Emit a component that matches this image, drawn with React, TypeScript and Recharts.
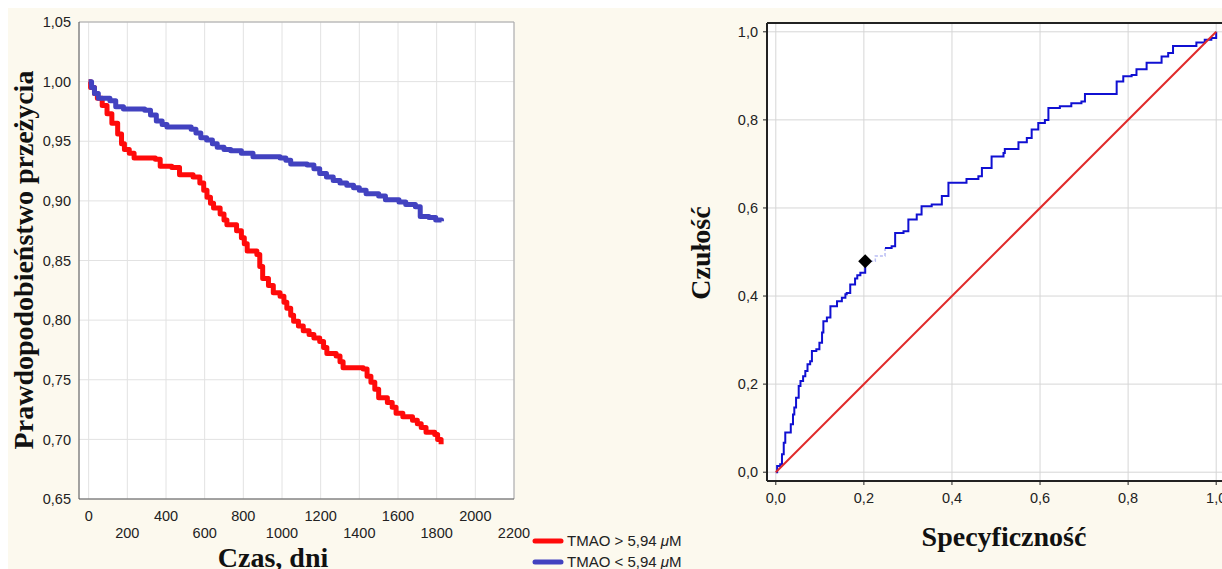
import React from "react";
import {
  LineChart,
  ComposedChart,
  Line,
  Scatter,
  XAxis,
  YAxis,
  CartesianGrid,
  ReferenceLine,
} from "recharts";

const SANS = "'Liberation Sans', Arial, sans-serif";
const SERIF = "'Liberation Serif', 'Times New Roman', serif";

// Kaplan-Meier: survival by TMAO group
const dayTicks = [0, 200, 400, 600, 800, 1000, 1200, 1400, 1600, 1800, 2000, 2200];
const survTicks = [0.65, 0.7, 0.75, 0.8, 0.85, 0.9, 0.95, 1.0, 1.05];

const highDays = [
  0, 10, 30, 45, 70, 95, 120, 150, 170, 185, 210, 235, 345, 370, 430, 470, 540, 575, 595, 612,
  630, 646, 680, 700, 715, 765, 790, 805, 820, 870, 885, 900, 930, 955, 990, 1010, 1025, 1045,
  1060, 1085, 1110, 1140, 1165, 1195, 1215, 1232, 1280, 1300, 1316, 1420, 1440, 1460, 1480, 1500,
  1545, 1570, 1590, 1625, 1675, 1700, 1720, 1745, 1790, 1805, 1823,
];
const highSurv = [
  1.0, 0.995, 0.99, 0.986, 0.98, 0.973, 0.965, 0.956, 0.948, 0.943, 0.94, 0.936, 0.935, 0.929,
  0.928, 0.922, 0.92, 0.915, 0.909, 0.903, 0.898, 0.894, 0.889, 0.884, 0.88, 0.875, 0.869, 0.864,
  0.858, 0.855, 0.845, 0.835, 0.829, 0.823, 0.82, 0.815, 0.81, 0.804, 0.799, 0.795, 0.791, 0.788,
  0.785, 0.782, 0.777, 0.772, 0.77, 0.765, 0.76, 0.759, 0.753, 0.748, 0.742, 0.735, 0.731, 0.727,
  0.722, 0.719, 0.716, 0.713, 0.71, 0.706, 0.704, 0.7, 0.696,
];

const lowDays = [
  0, 15, 30, 50, 110, 140, 180, 290, 320, 350, 380, 405, 530, 555, 580, 610, 640, 665, 700, 735,
  790, 850, 990, 1020, 1045, 1130, 1165, 1195, 1230, 1265, 1300, 1335, 1370, 1400, 1435, 1500,
  1535, 1605, 1640, 1690, 1715, 1760, 1795, 1825,
];
const lowSurv = [
  1.0, 0.995, 0.99, 0.986, 0.984, 0.979, 0.977, 0.976, 0.972, 0.967, 0.964, 0.962, 0.96, 0.957,
  0.953, 0.951, 0.948, 0.945, 0.943, 0.942, 0.94, 0.937, 0.936, 0.934, 0.931, 0.93, 0.927, 0.923,
  0.92, 0.917, 0.915, 0.913, 0.911, 0.909, 0.906, 0.904, 0.901, 0.899, 0.897, 0.895, 0.887, 0.886,
  0.884, 0.883,
];

// ROC curve
const rocTicks = [0, 0.2, 0.4, 0.6, 0.8, 1.0];

const rocFprA = [
  0, 0.003, 0.01, 0.014, 0.018, 0.0215, 0.029, 0.034, 0.039, 0.042, 0.046, 0.052, 0.056, 0.062,
  0.067, 0.072, 0.078, 0.082, 0.092, 0.099, 0.105, 0.108, 0.116, 0.124, 0.139, 0.15, 0.158, 0.161,
  0.169, 0.18, 0.185, 0.192, 0.203,
];
const rocTprA = [
  0, 0.014, 0.018, 0.041, 0.067, 0.09, 0.09, 0.109, 0.131, 0.147, 0.169, 0.196, 0.207, 0.218, 0.23,
  0.245, 0.252, 0.275, 0.279, 0.294, 0.317, 0.343, 0.351, 0.377, 0.388, 0.396, 0.404, 0.407, 0.426,
  0.44, 0.447, 0.453, 0.479,
];
const rocFprGap = [0.203, 0.226, 0.248];
const rocTprGap = [0.479, 0.491, 0.509];
const rocFprB = [
  0.248, 0.263, 0.271, 0.29, 0.301, 0.32, 0.331, 0.354, 0.377, 0.392, 0.418, 0.433, 0.46, 0.468,
  0.49, 0.517, 0.52, 0.543, 0.551, 0.57, 0.581, 0.596, 0.611, 0.619, 0.645, 0.671, 0.694, 0.702,
  0.766, 0.774, 0.789, 0.808, 0.819, 0.842, 0.868, 0.876, 0.891, 0.902, 0.948, 0.955, 0.974, 0.989,
  1.0,
];
const rocTprB = [
  0.509, 0.513, 0.543, 0.547, 0.574, 0.585, 0.604, 0.608, 0.627, 0.657, 0.657, 0.666, 0.672, 0.691,
  0.717, 0.725, 0.734, 0.734, 0.749, 0.759, 0.778, 0.793, 0.8, 0.827, 0.831, 0.838, 0.842, 0.859,
  0.859, 0.887, 0.899, 0.902, 0.915, 0.93, 0.93, 0.944, 0.952, 0.968, 0.968, 0.976, 0.982, 0.986,
  1.0,
];
const refFpr = [0, 1];
const refTpr = [0, 1];
const cutFpr = [0.203];
const cutTpr = [0.479];

const highData = highDays.map((t, i) => ({ t, s: highSurv[i] }));
const lowData = lowDays.map((t, i) => ({ t, s: lowSurv[i] }));
const zip = (xs: number[], ys: number[]) => xs.map((x, i) => ({ x, y: ys[i] }));
const rocA = zip(rocFprA, rocTprA);
const rocGap = zip(rocFprGap, rocTprGap);
const rocB = zip(rocFprB, rocTprB);
const refData = zip(refFpr, refTpr);
const cutData = zip(cutFpr, cutTpr);

const comma = (d: number) => (v: number) => v.toFixed(d).replace(".", ",");

function DayTick(props: any) {
  const { x, y, payload } = props;
  const lower = Math.round(payload.value / 200) % 2 === 1;
  return (
    <text x={x} y={y + (lower ? 39 : 22)} textAnchor="middle" fontSize={14.5} fill="#222" fontFamily={SANS}>
      {payload.value}
    </text>
  );
}

function Diamond(props: any) {
  const { cx, cy } = props;
  const r = 7;
  return <polygon points={`${cx},${cy - r} ${cx + r},${cy} ${cx},${cy + r} ${cx - r},${cy}`} fill="#000" />;
}

const tickStyle = { fontSize: 14.5, fill: "#222", fontFamily: SANS };

export default function App() {
  return (
    <div
      style={{
        position: "fixed",
        left: 8,
        top: 8,
        width: 1214,
        height: 561,
        background: "#fcf9ee",
        overflow: "hidden",
      }}
    >
      <div style={{ position: "absolute", left: 0, top: 0 }}>
        <LineChart width={545} height={561} margin={{ top: 14, right: 39, bottom: 20, left: 0 }}>
          <CartesianGrid stroke="#e2e2e2" fill="#fff" />
          <XAxis
            type="number"
            dataKey="t"
            domain={[-50, 2200]}
            ticks={dayTicks}
            interval={0}
            allowDataOverflow
            height={50}
            tickSize={0}
            tickMargin={0}
            tick={<DayTick />}
            axisLine={{ stroke: "#555" }}
          />
          <YAxis
            type="number"
            domain={[0.65, 1.05]}
            ticks={survTicks}
            interval={0}
            allowDataOverflow
            width={71}
            tickSize={0}
            tickMargin={8}
            tickFormatter={comma(2)}
            tick={tickStyle}
            axisLine={{ stroke: "#555" }}
          />
          <ReferenceLine y={1.05} stroke="#a8a8a8" />
          <ReferenceLine x={2200} stroke="#a8a8a8" />
          <Line
            data={highData}
            dataKey="s"
            type="stepAfter"
            stroke="#ff0a0a"
            strokeWidth={5}
            strokeLinejoin="round"
            dot={false}
            isAnimationActive={false}
          />
          <Line
            data={lowData}
            dataKey="s"
            type="stepAfter"
            stroke="#4242c0"
            strokeWidth={5}
            strokeLinejoin="round"
            dot={false}
            isAnimationActive={false}
          />
        </LineChart>
      </div>

      <div style={{ position: "absolute", left: 660, top: 0 }}>
        <ComposedChart width={580} height={561} margin={{ top: 15, right: 23, bottom: 58, left: 0 }}>
          <CartesianGrid stroke="#d6d6d6" fill="#fff" />
          <XAxis
            type="number"
            dataKey="x"
            domain={[-0.02, 1.02]}
            ticks={rocTicks}
            interval={0}
            allowDataOverflow
            height={30}
            tickSize={4}
            tickMargin={8}
            tickFormatter={comma(1)}
            tick={tickStyle}
            axisLine={{ stroke: "#222", strokeWidth: 2 }}
            tickLine={{ stroke: "#222" }}
          />
          <YAxis
            type="number"
            dataKey="y"
            domain={[-0.02, 1.02]}
            ticks={rocTicks}
            interval={0}
            allowDataOverflow
            width={99}
            tickSize={4}
            tickMargin={5}
            tickFormatter={comma(1)}
            tick={tickStyle}
            axisLine={{ stroke: "#222", strokeWidth: 2 }}
            tickLine={{ stroke: "#222" }}
          />
          <ReferenceLine y={1.02} stroke="#222" strokeWidth={2} />
          <Line data={rocA} dataKey="y" type="stepAfter" stroke="#1010d2" strokeWidth={2} dot={false} isAnimationActive={false} />
          <Line data={rocGap} dataKey="y" type="stepAfter" stroke="#b8bcf4" strokeWidth={1.5} strokeDasharray="3 2" dot={false} isAnimationActive={false} />
          <Line data={rocB} dataKey="y" type="stepAfter" stroke="#1010d2" strokeWidth={2} dot={false} isAnimationActive={false} />
          <Line data={refData} dataKey="y" type="linear" stroke="#e02a2a" strokeWidth={2} dot={false} isAnimationActive={false} />
          <Scatter data={cutData} dataKey="y" shape={<Diamond />} isAnimationActive={false} />
        </ComposedChart>
      </div>

      <svg
        width={1214}
        height={561}
        style={{ position: "absolute", left: 0, top: 0, pointerEvents: "none" }}
      >
        <text
          x={25}
          y={252}
          transform="rotate(-90, 25, 252)"
          textAnchor="middle"
          fontFamily={SERIF}
          fontWeight="bold"
          fontSize={28}
          fill="#111"
        >
          Prawdopodobieństwo przeżycia
        </text>
        <text x={265} y={559} textAnchor="middle" fontFamily={SERIF} fontWeight="bold" fontSize={28} fill="#111">
          Czas, dni
        </text>
        <text
          x={702}
          y={245}
          transform="rotate(-90, 702, 245)"
          textAnchor="middle"
          fontFamily={SERIF}
          fontWeight="bold"
          fontSize={28}
          fill="#111"
        >
          Czułość
        </text>
        <text x={996} y={538} textAnchor="middle" fontFamily={SERIF} fontWeight="bold" fontSize={28} fill="#111">
          Specyficzność
        </text>

        <line x1={527} y1={533} x2={553} y2={533} stroke="#ff0a0a" strokeWidth={5} strokeLinecap="round" />
        <text x={559} y={538} fontFamily={SANS} fontSize={15} fill="#222">
          TMAO &gt; 5,94 <tspan fontStyle="italic">μ</tspan>M
        </text>
        <line x1={527} y1={554} x2={553} y2={554} stroke="#4242c0" strokeWidth={5} strokeLinecap="round" />
        <text x={559} y={559} fontFamily={SANS} fontSize={15} fill="#222">
          TMAO &lt; 5,94 <tspan fontStyle="italic">μ</tspan>M
        </text>
      </svg>
    </div>
  );
}
